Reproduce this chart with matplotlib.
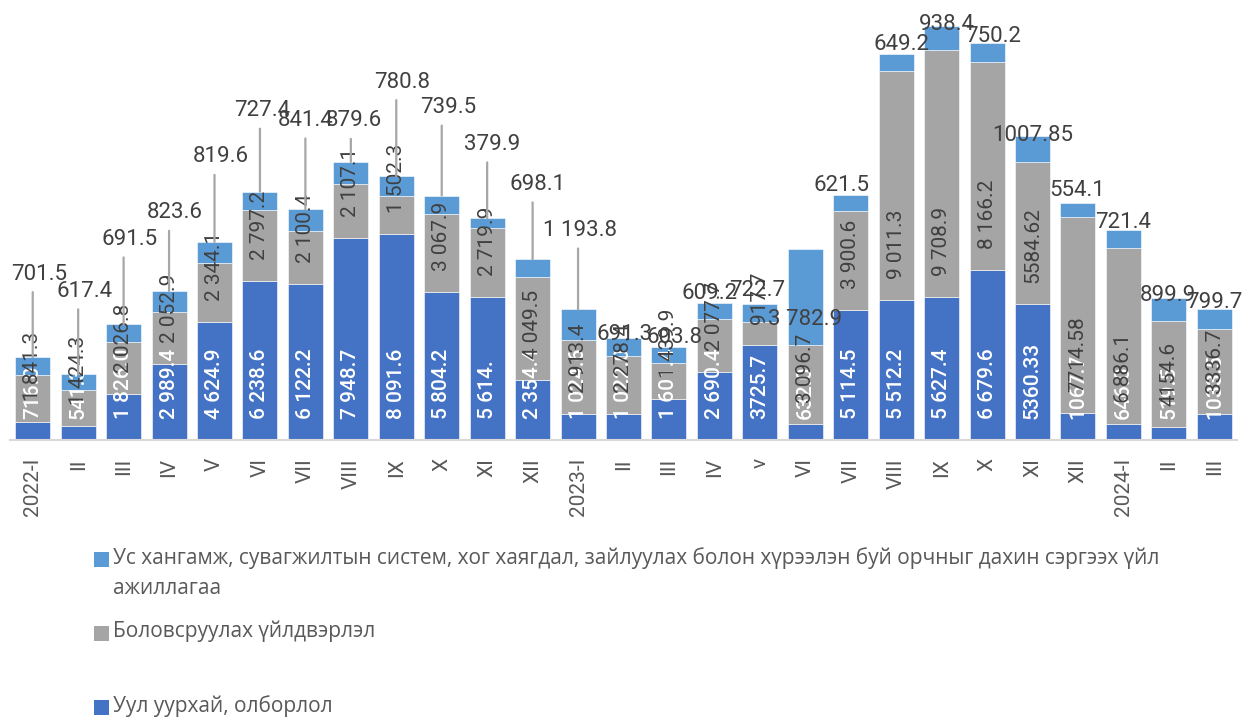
import matplotlib
matplotlib.use("Agg")
import matplotlib.pyplot as plt
from matplotlib.patches import Rectangle
import numpy as np

plt.rcParams['font.family'] = ['Roboto', 'DejaVu Sans']

# quarters / months on the x axis
periods = ["2022-I", "II", "III", "IV", "V", "VI", "VII", "VIII", "IX", "X", "XI", "XII",
           "2023-I", "II", "III", "IV", "v", "VI", "VII", "VIII", "IX", "X", "XI", "XII",
           "2024-I", "II", "III"]

# series values
mining = [716.0, 541.3, 1826.0, 2989.4, 4624.9, 6238.6, 6122.2, 7948.7, 8091.6, 5804.2,
          5614.0, 2354.4, 1024.6, 1022.0, 1601.4, 2690.4, 3725.7, 632.0, 5114.5, 5512.2,
          5627.4, 6679.6, 5360.33, 1067.7, 646.0, 519.5, 1033.5]
manufacturing = [1841.3, 1424.3, 2026.8, 2052.9, 2344.1, 2797.2, 2100.4, 2107.1, 1502.3,
                 3067.9, 2719.9, 4049.5, 2913.4, 2278.4, 1439.9, 2077.7, 917.7, 3096.7,
                 3900.6, 9011.3, 9708.9, 8166.2, 5584.62, 7714.58, 6886.1, 4154.6, 3336.7]
utilities = [701.5, 617.4, 691.5, 823.6, 819.6, 727.4, 841.4, 879.6, 780.8, 739.5, 379.9,
             698.1, 1193.8, 691.3, 603.8, 609.2, 722.7, 3782.9, 621.5, 649.2, 938.4, 750.2,
             1007.85, 554.1, 721.4, 899.9, 799.7]

# data label texts as printed in the source
mining_labels = ["716.0", "541.3", "1 826.0", "2 989.4", "4 624.9", "6 238.6", "6 122.2",
                 "7 948.7", "8 091.6", "5 804.2", "5 614.", "2 354.4", "1 024.6", "1 022.0",
                 "1 601.4", "2 690.4", "3725.7", "632.0", "5 114.5", "5 512.2", "5 627.4",
                 "6 679.6", "5360.33", "1067.7", "646.0", "519.5", "1033.5"]
manufacturing_labels = ["1 841.3", "1 424.3", "2 026.8", "2 052.9", "2 344.1", "2 797.2",
                        "2 100.4", "2 107.1", "1 502.3", "3 067.9", "2 719.9", "4 049.5",
                        "2 913.4", "2 278.4", "1 439.9", "2 077.7", "917.7", "3 096.7",
                        "3 900.6", "9 011.3", "9 708.9", "8 166.2", "5584.62", "7714.58",
                        "6 886.1", "4154.6", "3336.7"]
utilities_labels = ["701.5", "617.4", "691.5", "823.6", "819.6", "727.4", "841.4", "879.6",
                    "780.8", "739.5", "379.9", "698.1", "1 193.8", "691.3", "603.8", "609.2",
                    "722.7", "3 782.9", "621.5", "649.2", "938.4", "750.2", "1007.85",
                    "554.1", "721.4", "899.9", "799.7"]

# manual nudges of the top labels (pixels), like the moved labels in the original
top_dx = [6, 6, 6, 6, 6, 2, 0, 3, 6, 6, 5, 5, 2, 1, 6, -5, -3, 0, -9, 5, 5, 6, 0, -1, 0, -1, 0]
top_dy = [83, 83, 85, 78, 85, 81, 89, 41, 94, 88, 74, 75, 79, 4, 10, 10, 13, -71, 9, 10, 2,
          7, 0, 12, 8, 3, 6]

legend_names = ["Ус хангамж, сувагжилтын систем, хог хаягдал, зайлуулах болон хүрээлэн буй орчныг дахин сэргээх үйл\nажиллагаа",
                "Боловсруулах үйлдвэрлэл",
                "Уул уурхай, олборлол"]

c_mining = "#4472C4"
c_manuf = "#A5A5A5"
c_util = "#5B9BD5"
txt = "#404040"
PX = 72 / 100  # points per pixel at dpi 100

fig = plt.figure(figsize=(12.58, 7.2), dpi=100)
ax = fig.add_axes([10 / 1258, 280 / 720, 1227 / 1258, 440 / 720])

x = np.arange(len(periods))
mining = np.array(mining)
manufacturing = np.array(manufacturing)
utilities = np.array(utilities)
w = 0.77

ax.bar(x, mining, w, color=c_mining, edgecolor="white", linewidth=0.4)
ax.bar(x, manufacturing, w, bottom=mining, color=c_manuf, edgecolor="white", linewidth=0.4)
ax.bar(x, utilities, w, bottom=mining + manufacturing, color=c_util, edgecolor="white",
       linewidth=0.4)

# labels inside the segments (inside base, rotated)
for i in x:
    ax.annotate(mining_labels[i], xy=(i, 0), xytext=(0, 21 * PX), textcoords="offset points",
                rotation=90, ha="center", va="bottom", color="white", fontsize=15,
                fontweight="medium", annotation_clip=False)
    ax.annotate(manufacturing_labels[i], xy=(i, mining[i]), xytext=(0, 21 * PX),
                textcoords="offset points", rotation=90, ha="center", va="bottom",
                color=txt, fontsize=15, annotation_clip=False)

# top labels with leader lines
totals = mining + manufacturing + utilities
for i in x:
    if top_dy[i] > 30:
        ax.annotate("", xy=(i, totals[i]), xytext=(0, (top_dy[i] - 18) * PX),
                    textcoords="offset points",
                    arrowprops=dict(arrowstyle="-", color="#A6A6A6", lw=1.6,
                                    shrinkA=0, shrinkB=0))
    ax.annotate(utilities_labels[i], xy=(i, totals[i]),
                xytext=(top_dx[i] * PX, top_dy[i] * PX), textcoords="offset points",
                ha="center", va="center", color=txt, fontsize=16, annotation_clip=False)

ax.set_xlim(-0.5, len(periods) - 0.5)
ax.set_ylim(0, 17300)
ax.set_xticks(x)
ax.set_xticklabels(periods, rotation=90, fontsize=15, color="#595959", va="top")
ax.tick_params(axis="x", length=0, pad=13)
ax.set_yticks([])
for s in ["top", "right", "left"]:
    ax.spines[s].set_visible(False)
ax.spines["bottom"].set_color("#D9D9D9")
ax.spines["bottom"].set_linewidth(1.5)

# legend, stacked vertically under the chart
leg_colors = [c_util, c_manuf, c_mining]
leg_y = [559, 633, 707]
for name, col, yy in zip(legend_names, leg_colors, leg_y):
    fig.patches.append(Rectangle((94 / 1258, (720 - yy - 7.5) / 720), 15 / 1258, 15 / 720,
                                 transform=fig.transFigure, facecolor=col, edgecolor="none"))
    fig.text(113 / 1258, (720 - yy + 12) / 720, name, ha="left", va="top", fontsize=15,
             color="#595959", family=["Open Sans", "DejaVu Sans"], linespacing=1.6)

fig.savefig("out.png", dpi=100)
